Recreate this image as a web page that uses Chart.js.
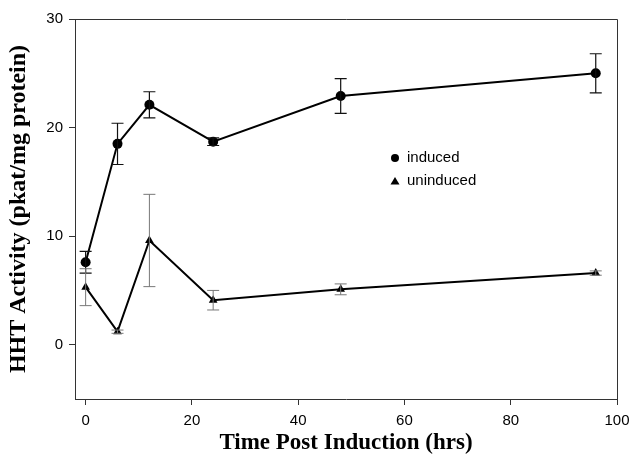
<!DOCTYPE html>
<html>
<head>
<meta charset="utf-8">
<script src="https://cdn.jsdelivr.net/npm/chart.js@4.4.0/dist/chart.umd.min.js"></script>
<style>
  html, body { margin: 0; padding: 0; background: #fff; }
  #wrap { width: 633px; height: 457px; }
</style>
</head>
<body>
<div id="wrap"><canvas id="myChart" width="633" height="457"></canvas></div>
<script>
// gio sau cam ung (hrs)
const hours = [0, 6, 12, 24, 48, 96];

const inducedVals = [7.6, 18.5, 22.1, 18.7, 22.9, 25.0];
const inducedErr = [1.0, 1.9, 1.2, 0.35, 1.6, 1.8];

const uninducedVals = [5.3, 1.2, 9.6, 4.1, 5.1, 6.6];
const uninducedErr = [1.7, 0.15, 4.25, 0.9, 0.5, 0.2];

const xTicks = [0, 20, 40, 60, 80, 100];
const yTicks = [0, 10, 20, 30];

const legendItems = ['induced', 'uninduced'];

function toPoints(vals) {
    return hours.map((h, i) => ({ x: h, y: vals[i] }));
}

// thanh sai so
const errorBarPlugin = {
    id: 'errorBars',
    afterDatasetsDraw(chart) {
        const ctx = chart.ctx;
        const xs = chart.scales.x;
        const ys = chart.scales.y;
        const sets = [
            { vals: inducedVals, err: inducedErr, color: '#111', width: 1.2 },
            { vals: uninducedVals, err: uninducedErr, color: '#777', width: 1 }
        ];
        ctx.save();
        sets.forEach(s => {
            ctx.strokeStyle = s.color;
            ctx.lineWidth = s.width;
            hours.forEach((h, i) => {
                const px = xs.getPixelForValue(h);
                const top = ys.getPixelForValue(s.vals[i] + s.err[i]);
                const bot = ys.getPixelForValue(s.vals[i] - s.err[i]);
                ctx.beginPath();
                ctx.moveTo(px, top);
                ctx.lineTo(px, bot);
                ctx.moveTo(px - 6, top);
                ctx.lineTo(px + 6, top);
                ctx.moveTo(px - 6, bot);
                ctx.lineTo(px + 6, bot);
                ctx.stroke();
            });
        });
        ctx.restore();
    }
};

// khung + chu thich
const framePlugin = {
    id: 'frame',
    afterDraw(chart) {
        const ctx = chart.ctx;
        const a = chart.chartArea;
        ctx.save();
        ctx.strokeStyle = '#333';
        ctx.lineWidth = 1;
        ctx.beginPath();
        ctx.moveTo(a.left, a.top + 0.5);
        ctx.lineTo(a.right + 0.5, a.top + 0.5);
        ctx.lineTo(a.right + 0.5, a.bottom);
        ctx.stroke();

        ctx.fillStyle = '#000';
        ctx.font = '15px "Liberation Sans", Arial, sans-serif';
        ctx.textBaseline = 'middle';
        const lx = 395, ly = 158, gap = 23;
        // induced
        ctx.beginPath();
        ctx.arc(lx, ly, 4, 0, Math.PI * 2);
        ctx.fill();
        ctx.fillText(legendItems[0], lx + 12, ly);
        // uninduced
        ctx.beginPath();
        ctx.moveTo(lx, ly + gap - 4);
        ctx.lineTo(lx + 4.5, ly + gap + 3.5);
        ctx.lineTo(lx - 4.5, ly + gap + 3.5);
        ctx.closePath();
        ctx.fill();
        ctx.fillText(legendItems[1], lx + 12, ly + gap);
        ctx.restore();
    }
};

const ctx = document.getElementById('myChart').getContext('2d');
const myChart = new Chart(ctx, {
    type: 'line',
    data: {
        datasets: [{
            label: legendItems[0],
            data: toPoints(inducedVals),
            borderColor: '#000',
            backgroundColor: '#000',
            borderWidth: 2,
            pointStyle: 'circle',
            pointRadius: 5,
            pointBorderWidth: 0,
            tension: 0
        }, {
            label: legendItems[1],
            data: toPoints(uninducedVals),
            borderColor: '#000',
            backgroundColor: '#000',
            borderWidth: 2,
            pointStyle: 'triangle',
            pointRadius: 5,
            pointBorderWidth: 0,
            tension: 0
        }]
    },
    options: {
        responsive: false,
        animation: false,
        layout: { padding: { top: 19, right: 16, left: 0, bottom: 0 } },
        plugins: {
            legend: { display: false },
            tooltip: { enabled: false }
        },
        scales: {
            x: {
                type: 'linear',
                min: -2,
                max: 100,
                afterBuildTicks: s => { s.ticks = xTicks.map(v => ({ value: v })); },
                afterFit: s => { s.height = 58; s.paddingRight = 0; s.paddingLeft = 0; },
                grid: { drawOnChartArea: false, drawTicks: true, tickLength: 6, color: '#333' },
                border: { color: '#333', width: 1 },
                ticks: {
                    color: '#000',
                    padding: 7,
                    maxRotation: 0,
                    font: { family: '"Liberation Sans", Arial, sans-serif', size: 15 }
                },
                title: {
                    display: true,
                    text: 'Time Post Induction (hrs)',
                    color: '#000',
                    padding: { top: 0, bottom: 0 },
                    font: { family: '"Liberation Serif", "Times New Roman", serif', size: 23, weight: 'bold' }
                }
            },
            y: {
                min: -5,
                max: 30,
                afterBuildTicks: s => { s.ticks = yTicks.map(v => ({ value: v })); },
                afterFit: s => { s.width = 75; },
                grid: { drawOnChartArea: false, drawTicks: true, tickLength: 6, color: '#333' },
                border: { color: '#333', width: 1 },
                ticks: {
                    color: '#000',
                    padding: 6,
                    font: { family: '"Liberation Sans", Arial, sans-serif', size: 15 }
                },
                title: {
                    display: true,
                    text: 'HHT Activity (pkat/mg protein)',
                    color: '#000',
                    padding: { top: 4, bottom: 4 },
                    font: { family: '"Liberation Serif", "Times New Roman", serif', size: 24, weight: 'bold' }
                }
            }
        }
    },
    plugins: [errorBarPlugin, framePlugin]
});
</script>
</body>
</html>
